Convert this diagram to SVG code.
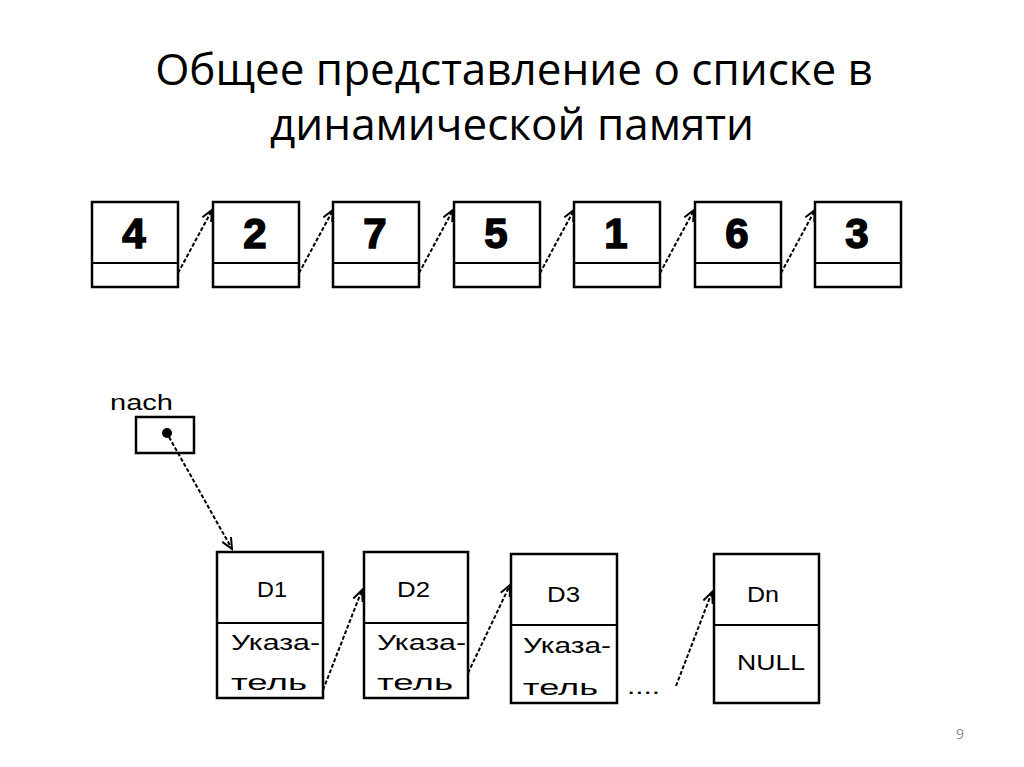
<svg xmlns="http://www.w3.org/2000/svg" width="1024" height="767" viewBox="0 0 1024 767">
<style>
.title{font-family:"Open Sans","Liberation Sans",sans-serif;font-size:44px;fill:#000;text-anchor:middle}
.box{fill:#fff;stroke:#000;stroke-width:2.5}
.div{stroke:#000;stroke-width:2}
.dig{font-family:"Liberation Sans",Arial,sans-serif;font-weight:bold;font-size:42px;fill:#000;stroke:#000;stroke-width:1.5;text-anchor:middle}
.lbl{font-family:"Liberation Sans",Arial,sans-serif;font-size:22px;fill:#000}
.con{stroke:#000;stroke-width:2;stroke-dasharray:4 2;fill:none}
.pg{font-family:"Open Sans","Liberation Sans",sans-serif;font-size:14px;fill:#8c8c8c;text-anchor:middle}
</style>
<defs>
<marker id="ah" markerWidth="14" markerHeight="14" refX="12" refY="7" orient="auto" markerUnits="userSpaceOnUse">
<polyline points="1,2 12,7 1,12" fill="none" stroke="#000" stroke-width="2"/>
</marker>
</defs>
<rect width="1024" height="767" fill="#fff"/>
<g id="title">
<text class="title" x="514" y="85">Общее представление о списке в</text>
<text class="title" x="512" y="140">динамической памяти</text>
</g>
<g id="top-row">
<g id="n4"><rect class="box" x="92" y="202" width="86" height="85"/><line class="div" x1="92" y1="263" x2="178" y2="263"/><text class="dig" x="134" y="248">4</text></g>
<g id="n2"><rect class="box" x="213" y="202" width="86" height="85"/><line class="div" x1="213" y1="263" x2="299" y2="263"/><text class="dig" x="255" y="248">2</text></g>
<g id="n7"><rect class="box" x="333" y="202" width="86" height="85"/><line class="div" x1="333" y1="263" x2="419" y2="263"/><text class="dig" x="375" y="248">7</text></g>
<g id="n5"><rect class="box" x="454" y="202" width="86" height="85"/><line class="div" x1="454" y1="263" x2="540" y2="263"/><text class="dig" x="496" y="248">5</text></g>
<g id="n1"><rect class="box" x="574" y="202" width="86" height="85"/><line class="div" x1="574" y1="263" x2="660" y2="263"/><text class="dig" x="616" y="248">1</text></g>
<g id="n6"><rect class="box" x="695" y="202" width="86" height="85"/><line class="div" x1="695" y1="263" x2="781" y2="263"/><text class="dig" x="737" y="248">6</text></g>
<g id="n3"><rect class="box" x="815" y="202" width="86" height="85"/><line class="div" x1="815" y1="263" x2="901" y2="263"/><text class="dig" x="857" y="248">3</text></g>
</g>
<g id="nach">
<text class="lbl" x="110" y="410" textLength="63" lengthAdjust="spacingAndGlyphs">nach</text>
<rect class="box" x="136" y="417" width="58" height="36"/>
<circle cx="167" cy="433" r="5" fill="#000"/>
</g>
<g id="d1"><rect class="box" x="217" y="552" width="106" height="146"/><line class="div" x1="217" y1="623" x2="323" y2="623"/>
<text class="lbl" x="257" y="597" textLength="30" lengthAdjust="spacingAndGlyphs">D1</text>
<text class="lbl" x="231" y="650" textLength="89" lengthAdjust="spacingAndGlyphs">Указа-</text>
<text class="lbl" x="231" y="690" textLength="76" lengthAdjust="spacingAndGlyphs">тель</text></g>
<g id="d2"><rect class="box" x="364" y="552" width="104" height="146"/><line class="div" x1="364" y1="623" x2="468" y2="623"/>
<text class="lbl" x="397" y="597" textLength="33" lengthAdjust="spacingAndGlyphs">D2</text>
<text class="lbl" x="377" y="650" textLength="89" lengthAdjust="spacingAndGlyphs">Указа-</text>
<text class="lbl" x="377" y="690" textLength="76" lengthAdjust="spacingAndGlyphs">тель</text></g>
<g id="d3"><rect class="box" x="511" y="554" width="106" height="149"/><line class="div" x1="511" y1="625" x2="617" y2="625"/>
<text class="lbl" x="547" y="602" textLength="33" lengthAdjust="spacingAndGlyphs">D3</text>
<text class="lbl" x="523" y="653" textLength="88" lengthAdjust="spacingAndGlyphs">Указа-</text>
<text class="lbl" x="523" y="695" textLength="75" lengthAdjust="spacingAndGlyphs">тель</text></g>
<g id="dn"><rect class="box" x="714" y="554" width="105" height="149"/><line class="div" x1="714" y1="625" x2="819" y2="625"/>
<text class="lbl" x="747" y="602" textLength="32" lengthAdjust="spacingAndGlyphs">Dn</text>
<text class="lbl" x="737" y="670" textLength="68" lengthAdjust="spacingAndGlyphs">NULL</text></g>
<g id="ellipsis"><text class="lbl" x="627" y="694" textLength="33" lengthAdjust="spacingAndGlyphs">....</text></g>
<g id="connectors">
<line class="con" x1="178" y1="273" x2="212" y2="210" marker-end="url(#ah)"/>
<line class="con" x1="299" y1="273" x2="333" y2="210" marker-end="url(#ah)"/>
<line class="con" x1="419" y1="273" x2="453" y2="210" marker-end="url(#ah)"/>
<line class="con" x1="540" y1="273" x2="574" y2="210" marker-end="url(#ah)"/>
<line class="con" x1="660" y1="273" x2="694" y2="210" marker-end="url(#ah)"/>
<line class="con" x1="781" y1="273" x2="815" y2="210" marker-end="url(#ah)"/>
<line class="con" x1="169" y1="437" x2="232" y2="549" marker-end="url(#ah)"/>
<line class="con" x1="323" y1="690" x2="362" y2="590" marker-end="url(#ah)"/>
<line class="con" x1="468" y1="673" x2="510" y2="585" marker-end="url(#ah)"/>
<line class="con" x1="676" y1="686" x2="712" y2="592" marker-end="url(#ah)"/>
</g>
<text class="pg" x="960" y="739">9</text>
</svg>
